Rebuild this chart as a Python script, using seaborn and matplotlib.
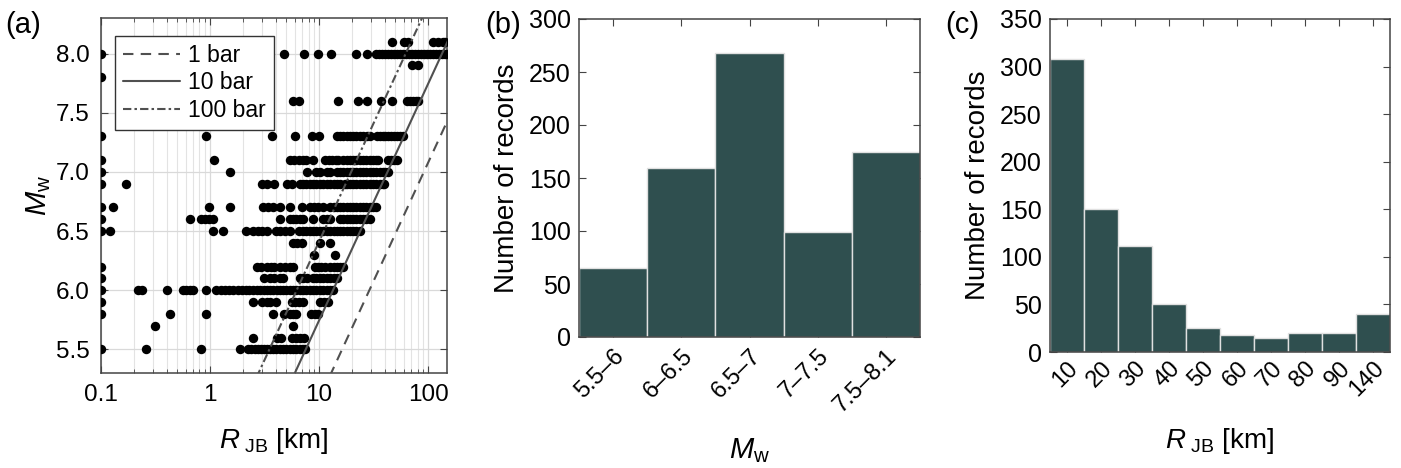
import numpy as np
import pandas as pd
import matplotlib
matplotlib.use("Agg")
import matplotlib.pyplot as plt
import seaborn as sns

# ---------------- data ----------------
# panel (a): R_JB [km] values of records for each magnitude row
r_m81 = [47, 60, 66, 111, 123, 137, 143]
r_m80 = [0.1, 3.3, 4.8, 7.2, 9.7, 12.8, 21.8, 27.3, 33.5, 35.5, 38, 40, 43, 46, 49, 52,
         55, 59, 63, 67, 71, 76, 81, 86, 92, 98, 105, 111, 119, 126, 135, 143, 148]
r_m79 = [71, 80]
r_m78 = [0.1]
r_m76 = [5.8, 6.5, 14.9, 22.9, 27.4, 37, 46.5, 64, 68, 72, 77, 81]
r_m73 = [0.1, 0.92, 3.7, 6.0, 8.6, 10.0, 14.6, 15.6, 16.6, 18, 19.2, 20.5, 21.8, 23.8,
         25.4, 27.5, 29.4, 33.9, 36.2, 38.6, 40.3, 43, 45.8, 48.9, 52.1, 55.5, 58.9]
r_m71 = [0.1, 1.09, 5.4, 5.9, 6.5, 7.1, 7.6, 8.8, 11.4, 12.3, 13.2, 14.2, 14.9, 16.6, 18,
         19.2, 20.5, 21.8, 23.8, 25.4, 27, 29.4, 31.3, 33.3, 34.7, 43, 45.8, 48.9, 52]
r_m70 = [0.1, 1.53, 7.8, 9.4, 10.2, 11.8, 12.6, 14.6, 15.6, 16.6, 18, 19.2, 20.5, 21.8,
         23.8, 25.4, 27, 29.4, 31.3, 33.3, 36.2, 38.6, 40.3, 43]
r_m69 = [0.1, 0.17, 2.98, 3.3, 3.87, 5.1, 5.6, 6.7, 7.1, 7.6, 8.25, 8.8, 9.4, 10.2, 10.9,
         11.8, 12.6, 13.7, 14.6, 15.6, 17.3, 18, 19.2, 20.5, 21.8, 23.8, 25.4, 27, 29.4,
         31.3, 33.3, 36.2, 38.6, 39.5]
r_m67 = [0.1, 0.13, 0.98, 1.53, 3.06, 3.4, 3.8, 4.4, 5.4, 7.0, 8.3, 9.0, 9.8, 10.9, 12.6,
         13.7, 14.6, 15.6, 16.6, 18, 19.2, 20.5, 21.8, 23.8, 25.4, 27, 29.4, 31.3, 33.3]
r_m66 = [0.1, 0.66, 0.83, 0.9, 0.98, 1.07, 4.4, 5.4, 5.8, 6.2, 6.7, 7.1, 8.8, 10.9, 11.8,
         12.6, 15.6, 16.6, 18, 19.2, 20.5, 21.8, 23.8, 25.4, 27, 29.4]
r_m65 = [0.1, 0.12, 1.07, 1.31, 2.14, 2.5, 2.76, 3.0, 3.3, 4.0, 4.4, 4.9, 5.4, 6.5, 7.1,
         7.6, 8.25, 8.8, 9.4, 10.2, 10.9, 11.8, 12.6, 13.7, 14.6, 15.6, 16.6, 18, 19.2,
         20.5, 21.8, 23.8]
r_m64 = [5.8, 6.3, 7.0, 10.3, 12.6]
r_m63 = [9.0, 14.0]
r_m62 = [0.1, 2.7, 2.94, 3.3, 3.6, 3.9, 4.4, 4.9, 5.4, 5.8, 9.2, 9.8, 10.5, 11.4, 12.6,
         13.7, 14.6, 15.6, 16.7]
r_m61 = [0.1, 3.1, 3.57, 3.9, 4.4, 4.7, 6.7, 7.1, 7.7, 8.8, 9.4, 10.2, 10.9, 11.8, 12.6,
         13.7, 14.5]
r_m60 = [0.1, 0.22, 0.24, 0.40, 0.56, 0.6, 0.65, 0.70, 0.92, 1.14, 1.25, 1.37, 1.5, 1.64,
         1.8, 1.97, 2.14, 2.3, 2.5, 2.7, 2.9, 3.1, 3.3, 3.57, 3.8, 4.1, 4.4, 4.7, 5.0, 5.4,
         5.8, 6.2, 6.7, 7.1, 7.6, 8.25, 8.8, 9.4, 10.2, 10.9, 11.8, 12.6, 13.4]
r_m59 = [0.1, 2.5, 3.0, 3.3, 3.57, 4.0, 5.6, 6.0, 6.5, 7.1, 10.2, 11.0, 12.0]
r_m58 = [0.1, 0.43, 0.92, 3.8, 4.8, 5.4, 5.8, 6.1, 8.5, 9.1, 9.8]
r_m57 = [0.31, 5.8]
r_m56 = [2.49, 4.1, 4.5, 5.6, 6.2, 6.7, 7.2]
r_m55 = [0.1, 0.26, 0.83, 1.88, 2.24, 2.4, 2.58, 2.76, 2.94, 3.12, 3.3, 3.57, 3.8, 4.0,
         4.4, 4.7, 5.0, 5.4, 5.8, 6.2, 6.7, 7.1, 7.4]

rows = {8.1: r_m81, 8.0: r_m80, 7.9: r_m79, 7.8: r_m78, 7.6: r_m76, 7.3: r_m73,
        7.1: r_m71, 7.0: r_m70, 6.9: r_m69, 6.7: r_m67, 6.6: r_m66, 6.5: r_m65,
        6.4: r_m64, 6.3: r_m63, 6.2: r_m62, 6.1: r_m61, 6.0: r_m60, 5.9: r_m59,
        5.8: r_m58, 5.7: r_m57, 5.6: r_m56, 5.5: r_m55}

# stress-drop lines: log10(R) = 0.5*M + c - (1/3)*log10(stress/10)
stress_drops = [1, 10, 100]
stress_labels = ["1 bar", "10 bar", "100 bar"]
c_10bar = -1.872

# panel (b)
mw_bins = ["5.5\u20136", "6\u20136.5", "6.5\u20137", "7\u20137.5", "7.5\u20138.1"]
mw_counts = [65, 159, 268, 99, 175]

# panel (c)
r_bins = ["10", "20", "30", "40", "50", "60", "70", "80", "90", "140"]
r_counts = [308, 150, 111, 50, 25, 18, 15, 20, 20, 40]

# ---------------- style ----------------
sns.set_style("white")
plt.rcParams["font.family"] = ["Liberation Sans", "DejaVu Sans"]
plt.rcParams.update({
    "mathtext.fontset": "custom",
    "mathtext.rm": "Liberation Sans",
    "mathtext.it": "Liberation Sans:italic",
    "text.color": "black",
    "axes.labelcolor": "black",
    "xtick.direction": "in",
    "ytick.direction": "in",
    "xtick.bottom": True,
    "ytick.left": True,
    "xtick.top": True,
    "ytick.right": True,
    "axes.edgecolor": "#444444",
    "axes.linewidth": 1.1,
    "xtick.color": "#444444",
    "ytick.color": "#444444",
    "xtick.labelcolor": "black",
    "ytick.labelcolor": "black",
})

W, H = 1401, 468
fig = plt.figure(figsize=(W / 100, H / 100), dpi=100)


def box(l, r, t, b):
    return [l / W, 1 - b / H, (r - l) / W, (b - t) / H]


bar_color = "#2f4f4f"
TICK_FS = 17.5
LAB_FS = 20

# ---------------- panel (a) ----------------
ax = fig.add_axes(box(101, 447, 18, 373))
df = pd.DataFrame([(r, m) for m, rs in rows.items() for r in rs], columns=["R", "M"])
ax.set_xscale("log")
sns.scatterplot(data=df, x="R", y="M", ax=ax, color="black", s=46, linewidth=0,
                zorder=3, legend=False)

m_line = np.linspace(5.0, 8.5, 50)
styles = [(0, (5, 3.5)), "-", (0, (4, 1.5, 1.2, 1.5))]
for sd, lab, ls in zip(stress_drops, stress_labels, styles):
    r_line = 10 ** (0.5 * m_line + c_10bar - np.log10(sd / 10) / 3)
    ax.plot(r_line, m_line, color="#505050", lw=1.5, ls=ls, label=lab, zorder=4)

ax.set_xlim(0.1, 149)
ax.set_ylim(5.3, 8.3)
ax.set_xticks([0.1, 1, 10, 100], labels=["0.1", "1", "10", "100"])
ax.xaxis.set_minor_formatter(matplotlib.ticker.NullFormatter())
ax.set_yticks([5.5, 6.0, 6.5, 7.0, 7.5, 8.0],
              labels=["5.5", "6.0", "6.5", "7.0", "7.5", "8.0"])
ax.grid(True, which="major", color="#d9d9d9", lw=0.9)
ax.grid(True, which="minor", axis="x", color="#e3e3e3", lw=0.8)
ax.tick_params(which="major", length=5, labelsize=TICK_FS, pad=8)
ax.tick_params(which="minor", length=3)
ax.set_xlabel(r"$R_{\ \mathrm{JB}}$ [km]", fontsize=LAB_FS, labelpad=14)
ax.set_ylabel(r"$M_\mathrm{w}$", fontsize=LAB_FS + 1, labelpad=2)
leg = ax.legend(loc="upper left", bbox_to_anchor=(0.04, 0.95), fontsize=16.5,
                frameon=True, fancybox=False, edgecolor="#333333", framealpha=1,
                handlelength=2.5, handletextpad=0.35, borderpad=0.35, labelspacing=0.2,
                borderaxespad=0)
leg.get_frame().set_linewidth(1.0)
fig.text(5 / W, 1 - 25 / H, "(a)", fontsize=21, va="center", ha="left")

# ---------------- panel (b) ----------------
axb = fig.add_axes(box(579, 920, 19, 337))
dfb = pd.DataFrame({"bin": mw_bins, "count": mw_counts})
sns.barplot(data=dfb, x="bin", y="count", ax=axb, color=bar_color, width=1.0,
            edgecolor="#e0e0e0", linewidth=1.0, saturation=1)
axb.set_xlim(-0.5, len(mw_bins) - 0.5)
axb.set_ylim(0, 300)
axb.set_yticks(range(0, 301, 50))
axb.tick_params(axis="x", labelsize=TICK_FS - 0.5, length=5, rotation=45, pad=6)
axb.tick_params(axis="y", labelsize=TICK_FS + 0.5, length=5, pad=6)
for t in axb.get_xticklabels():
    t.set_ha("right")
    t.set_rotation_mode("anchor")
axb.set_xlabel(r"$M_\mathrm{w}$", fontsize=LAB_FS + 1, labelpad=14)
axb.set_ylabel("Number of records", fontsize=LAB_FS, labelpad=6)
fig.text(485 / W, 1 - 25 / H, "(b)", fontsize=21, va="center", ha="left")

# ---------------- panel (c) ----------------
axc = fig.add_axes(box(1050, 1390, 19, 352))
dfc = pd.DataFrame({"bin": r_bins, "count": r_counts})
sns.barplot(data=dfc, x="bin", y="count", ax=axc, color=bar_color, width=1.0,
            edgecolor="#e0e0e0", linewidth=1.0, saturation=1)
axc.set_xlim(-0.5, len(r_bins) - 0.5)
axc.set_ylim(0, 350)
axc.set_yticks(range(0, 351, 50))
axc.tick_params(axis="x", labelsize=TICK_FS - 0.5, length=5, rotation=45, pad=4)
axc.tick_params(axis="y", labelsize=TICK_FS + 0.5, length=5, pad=6)
for t in axc.get_xticklabels():
    t.set_ha("right")
    t.set_rotation_mode("anchor")
axc.set_xlabel(r"$R_{\ \mathrm{JB}}$ [km]", fontsize=LAB_FS, labelpad=18)
axc.set_ylabel("Number of records", fontsize=LAB_FS, labelpad=6)
fig.text(945 / W, 1 - 25 / H, "(c)", fontsize=21, va="center", ha="left")

fig.savefig("out.png", dpi=100)
